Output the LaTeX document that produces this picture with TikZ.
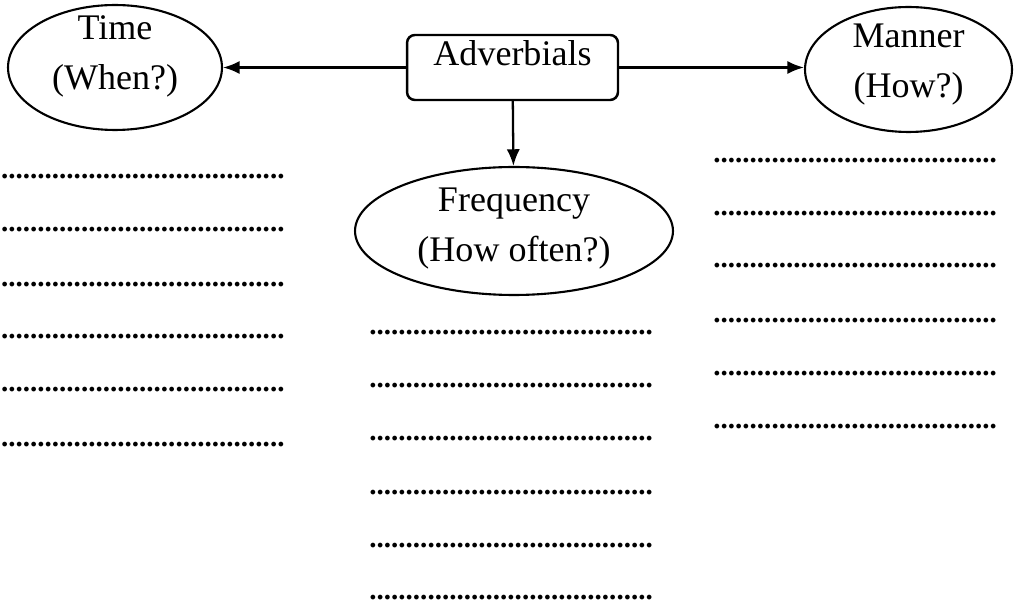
\documentclass[tikz,border=0pt]{standalone}
\usepackage{fontspec}
\setmainfont{Liberation Serif}
\usetikzlibrary{shapes, arrows.meta}

\newcommand{\dotline}{.......................................}

\begin{document}
\begin{tikzpicture}[x=0.02cm, y=-0.02cm,
	oval/.style={draw, shape = ellipse, line width=1.2pt, inner sep=0pt},
	word/.style={anchor=base, inner sep=0pt, font=\fontsize{20.5}{24}\selectfont},
	blank/.style={anchor=base west, inner sep=0pt, font=\fontsize{16.55}{20}\selectfont\bfseries},
	arr/.style={line width=1.3pt, -{Latex[length=9.5pt, width=7.5pt]}}]

	\useasboundingbox (0,0) rectangle (1014,604);

	\node[draw, line width=1.4pt, rounded corners=4.5pt, minimum width=4.22cm, minimum height=1.3cm, inner sep=0pt, text height=14pt, text depth=16.8pt, font=\fontsize{20.5}{24}\selectfont] (adv) at (512.5, 67.5) {Adverbials};

	\node[oval, minimum width=4.28cm, minimum height=2.5cm] (time) at (115, 67.5) {};
	\node[oval, minimum width=4.14cm, minimum height=2.5cm] (manner) at (908.5, 69.5) {};
	\node[oval, minimum width=6.36cm, minimum height=2.56cm] (freq) at (514, 231) {};

	\node[word] (time1) at (115, 40) {Time};
	\node[word] (time2) at (115, 90) {(When?)};
	\node[word] (manner1) at (908.5, 48) {Manner};
	\node[word] (manner2) at (908.5, 98) {(How?)};
	\node[word] (freq1) at (514, 212) {Frequency};
	\node[word] (freq2) at (514, 262) {(How often?)};

	\node[blank] (t1) at (0.7, 178.6) {\dotline};
	\node[blank] (t2) at (0.7, 232) {\dotline};
	\node[blank] (t3) at (0.7, 286.3) {\dotline};
	\node[blank] (t4) at (0.7, 339) {\dotline};
	\node[blank] (t5) at (0.7, 392) {\dotline};
	\node[blank] (t6) at (0.7, 446.3) {\dotline};

	\node[blank] (f1) at (369, 334.6) {\dotline};
	\node[blank] (f2) at (369, 387.3) {\dotline};
	\node[blank] (f3) at (369, 440.3) {\dotline};
	\node[blank] (f4) at (369, 494) {\dotline};
	\node[blank] (f5) at (369, 547.3) {\dotline};
	\node[blank] (f6) at (369, 599.6) {\dotline};

	\node[blank] (m1) at (713, 162.3) {\dotline};
	\node[blank] (m2) at (713, 215.3) {\dotline};
	\node[blank] (m3) at (713, 268) {\dotline};
	\node[blank] (m4) at (713, 322.3) {\dotline};
	\node[blank] (m5) at (713, 375.3) {\dotline};
	\node[blank] (m6) at (713, 428) {\dotline};

	\draw
	(adv) edge[arr] (time)
	(adv.east) edge[arr] (manner.west |- adv.east)
	(adv) edge[arr] (freq);

\end{tikzpicture}
\end{document}
